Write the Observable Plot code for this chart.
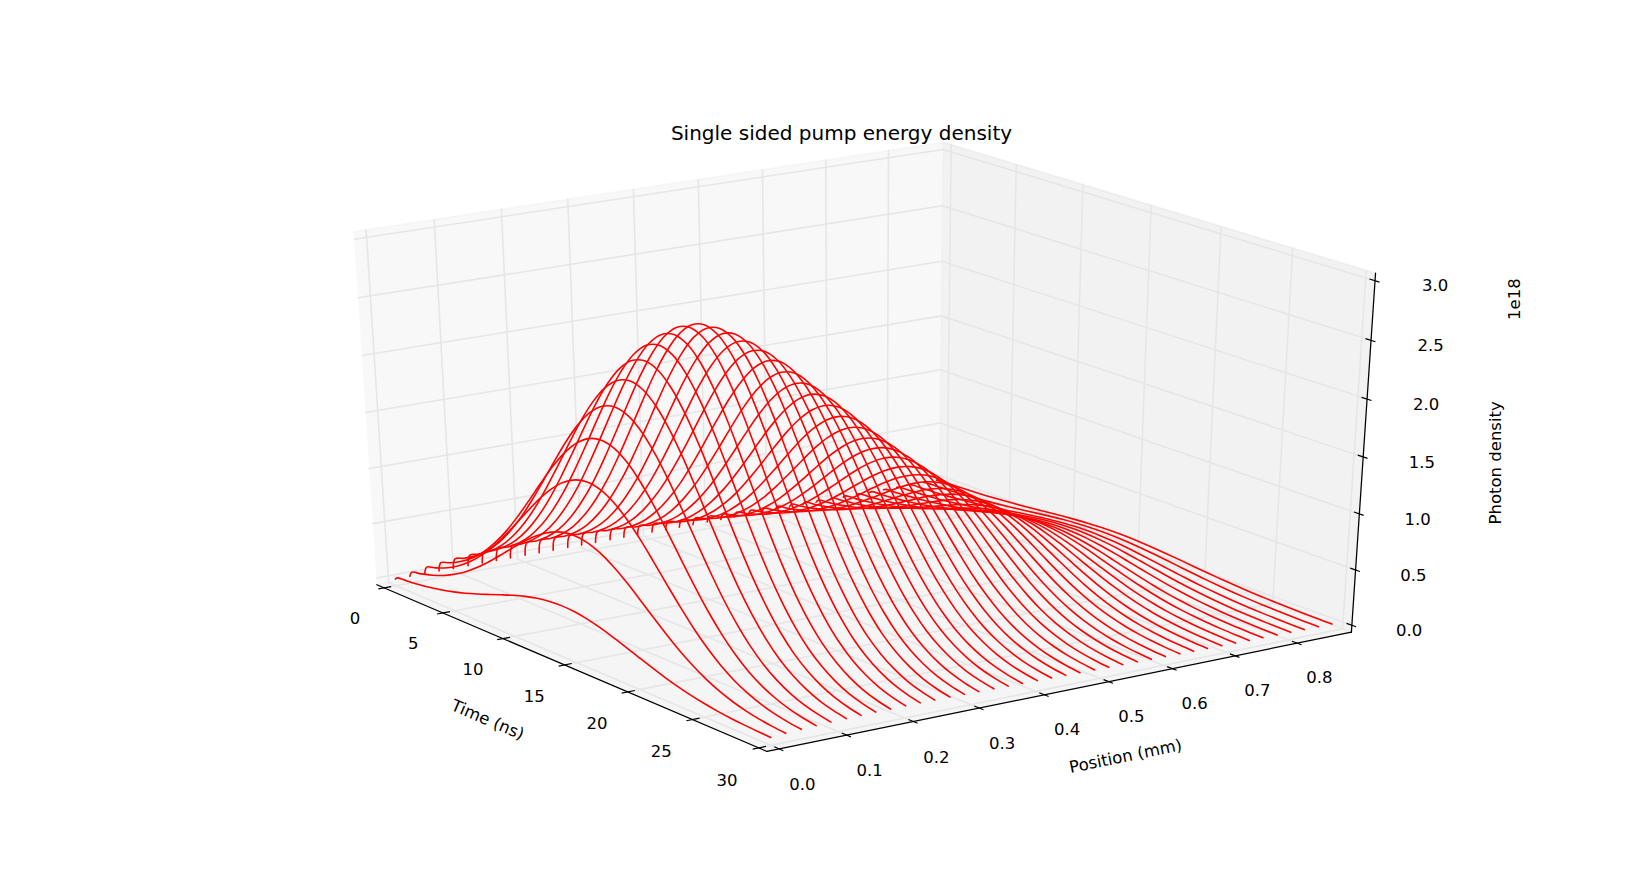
<!DOCTYPE html>
<html>
<head>
<meta charset="utf-8">
<script src="https://cdn.jsdelivr.net/npm/d3@7"></script>
<script src="https://cdn.jsdelivr.net/npm/@observablehq/plot@0.6"></script>
<style>
  html, body { margin: 0; padding: 0; background: #ffffff; }
  svg { display: block; }
</style>
</head>
<body>
<div id="chart"></div>
<script>
// ---------------- data ----------------
const chartTitle = "Single sided pump energy density";
const timeLabel = "Time (ns)";
const positionLabel = "Position (mm)";
const densityLabel = "Photon density";
const densityExponent = "1e18";

// positions (mm) of the traces
const positions = [0.000, 0.022, 0.045, 0.067, 0.089, 0.112, 0.134, 0.156, 0.178, 0.201,
                   0.223, 0.245, 0.268, 0.290, 0.312, 0.335, 0.357, 0.379, 0.402, 0.424,
                   0.446, 0.468, 0.491, 0.513, 0.535, 0.558, 0.580, 0.602, 0.625, 0.647,
                   0.669, 0.692, 0.714, 0.736, 0.758, 0.781, 0.803, 0.825, 0.848, 0.870];
// peak photon density of each trace (units of 1e18)
const amplitude = [0.40, 1.00, 1.44, 1.78, 2.04, 2.24, 2.39, 2.50, 2.57, 2.61,
                   2.61, 2.56, 2.49, 2.40, 2.30, 2.19, 2.07, 1.95, 1.83, 1.71,
                   1.59, 1.47, 1.35, 1.24, 1.13, 1.02, 0.92, 0.83, 0.74, 0.66,
                   0.58, 0.50, 0.43, 0.37, 0.31, 0.26, 0.22, 0.18, 0.15, 0.12];
// sample times (ns) and the relative pulse shape at those times
const times = [0, 0.2, 1, 2, 3, 4, 5, 6, 7, 8, 9, 10, 11, 12, 13, 14, 15,
               16, 17, 18, 19, 20, 21, 22, 23, 24, 25, 26, 27, 28, 29, 30];
const pulseShape = [0, 0.048, 0.068, 0.101, 0.145, 0.203, 0.275, 0.360, 0.458, 0.563,
                    0.671, 0.775, 0.866, 0.938, 0.984, 1.000, 0.984, 0.938, 0.866, 0.775,
                    0.671, 0.563, 0.458, 0.360, 0.275, 0.203, 0.145, 0.101, 0.068, 0.044,
                    0.028, 0.017];

// axes
const timeLimits = [0, 30];
const positionLimits = [0, 0.87];
const densityLimits = [0, 3];
const timeTicks = [0, 5, 10, 15, 20, 25, 30];
const timeTickLabels = ["0", "5", "10", "15", "20", "25", "30"];
const positionTicks = [0, 0.1, 0.2, 0.3, 0.4, 0.5, 0.6, 0.7, 0.8];
const positionTickLabels = ["0.0", "0.1", "0.2", "0.3", "0.4", "0.5", "0.6", "0.7", "0.8"];
const densityTicks = [0, 0.5, 1, 1.5, 2, 2.5, 3];
const densityTickLabels = ["0.0", "0.5", "1.0", "1.5", "2.0", "2.5", "3.0"];

// ---------------- view (matplotlib-like 3-D projection) ----------------
const view = {elev: 27, azim: -35, dist: 10};
const xDomain = [-0.095, 0.09], xRange = [205, 1477];
const yDomain = [-0.095, 0.09], yRange = [798, 89];

const rad = Math.PI / 180;
const el = view.elev * rad, az = view.azim * rad;
const nv = [Math.cos(az) * Math.cos(el), Math.sin(az) * Math.cos(el), Math.sin(el)];
const eye = [0.5 + view.dist * nv[0], 0.5 + view.dist * nv[1], 0.5 + view.dist * nv[2]];
const uv = [-Math.sin(az), Math.cos(az), 0];
const vv = [-Math.sin(el) * Math.cos(az), -Math.sin(el) * Math.sin(az), Math.cos(el)];
function proj(a, b, c) {
  const d = [a - eye[0], b - eye[1], c - eye[2]];
  const w = -(nv[0] * d[0] + nv[1] * d[1] + nv[2] * d[2]);
  return [(uv[0] * d[0] + uv[1] * d[1]) / w,
          (vv[0] * d[0] + vv[1] * d[1] + vv[2] * d[2]) / w];
}
const tn = t => (t - timeLimits[0]) / (timeLimits[1] - timeLimits[0]);
const pn = p => (p - positionLimits[0]) / (positionLimits[1] - positionLimits[0]);
const zn = z => (z - densityLimits[0]) / (densityLimits[1] - densityLimits[0]);
const pad = 1 / 48;          // pane padding (range/48)
const lo = -pad, hi = 1 + pad;
const tickIn = 0.15 / 12, tickOut = 0.12 / 12;

const kx = (xRange[1] - xRange[0]) / (xDomain[1] - xDomain[0]);
const ky = (yRange[0] - yRange[1]) / (yDomain[1] - yDomain[0]);
function screenAngle(a, b) {
  return Math.atan2(-(b[1] - a[1]) * ky, (b[0] - a[0]) * kx) * 180 / Math.PI;
}

// ---------------- build tables ----------------
function poly(id, pts) { return pts.map(q => { const [x, y] = proj(...q); return {id, x, y}; }); }

const paneLeft = poly("x", [[lo, lo, lo], [lo, hi, lo], [lo, hi, hi], [lo, lo, hi]]);
const paneRight = poly("y", [[lo, hi, lo], [hi, hi, lo], [hi, hi, hi], [lo, hi, hi]]);
const paneFloor = poly("z", [[lo, lo, lo], [hi, lo, lo], [hi, hi, lo], [lo, hi, lo]]);

const gridRows = [];
timeTicks.forEach((t, i) => gridRows.push(...poly("t" + i, [[tn(t), lo, lo], [tn(t), hi, lo], [tn(t), hi, hi]])));
positionTicks.forEach((p, i) => gridRows.push(...poly("p" + i, [[hi, pn(p), lo], [lo, pn(p), lo], [lo, pn(p), hi]])));
densityTicks.forEach((z, i) => gridRows.push(...poly("z" + i, [[hi, hi, zn(z)], [lo, hi, zn(z)], [lo, lo, zn(z)]])));

const axisRows = [
  ...poly("tAxis", [[lo, lo, lo], [hi, lo, lo]]),
  ...poly("pAxis", [[hi, lo, lo], [hi, hi, lo]]),
  ...poly("zAxis", [[hi, hi, lo], [hi, hi, hi]])
];

const tickRows = [];
function seg(a, b) { const [x1, y1] = proj(...a), [x2, y2] = proj(...b); tickRows.push({x1, y1, x2, y2}); }
timeTicks.forEach(t => seg([tn(t), lo - tickOut, lo], [tn(t), lo + tickIn, lo]));
positionTicks.forEach(p => seg([hi + tickOut, pn(p), lo], [hi - tickIn, pn(p), lo]));
densityTicks.forEach(z => seg([hi + tickOut, hi, zn(z)], [hi - tickIn, hi, zn(z)]));

const labelRows = [];
function lab(text, q) { const [x, y] = proj(...q); labelRows.push({text, x, y}); }
timeTicks.forEach((t, i) => lab(timeTickLabels[i], [tn(t), lo - 0.054, lo - 0.077]));
positionTicks.forEach((p, i) => lab(positionTickLabels[i], [hi + 0.056, pn(p), lo - 0.078]));
densityTicks.forEach((z, i) => lab(densityTickLabels[i], [hi + 0.06, hi + 0.06, zn(z) - 0.008]));

const timeAngle = screenAngle(proj(0, lo, lo), proj(1, lo, lo));
const posAngle = screenAngle(proj(hi, 0, lo), proj(hi, 1, lo));
const axisTitleRows = [
  {text: timeLabel, q: [0.5, lo - 0.135, lo - 0.12]},
  {text: positionLabel, q: [hi + 0.143, 0.5, lo - 0.127]},
  {text: densityLabel, q: [hi + 0.135, hi + 0.135, 0.5]},
  {text: densityExponent, q: [hi + 0.14, hi + 0.14, 0.965]}
].map(d => { const [x, y] = proj(...d.q); return {...d, x, y}; });

const curveRows = [];
positions.forEach((p, i) => {
  times.forEach((t, j) => {
    const z = amplitude[i] * pulseShape[j];
    const [x, y] = proj(tn(t), pn(p), zn(z));
    curveRows.push({series: i, x, y});
  });
});

// ---------------- plot ----------------
const font = "DejaVu Sans, Verdana, sans-serif";
const chart = Plot.plot({
  width: 1641,
  height: 887,
  margin: 0,
  x: {domain: xDomain, range: xRange, axis: null},
  y: {domain: yDomain, range: yRange, axis: null},
  style: {fontFamily: font, background: "#ffffff", color: "#000000"},
  marks: [
    Plot.line(paneLeft, {x: "x", y: "y", fill: "rgb(242,242,242)", fillOpacity: 0.5, stroke: "rgb(242,242,242)", strokeOpacity: 0.5, strokeWidth: 1.6}),
    Plot.line(paneRight, {x: "x", y: "y", fill: "rgb(230,230,230)", fillOpacity: 0.5, stroke: "rgb(230,230,230)", strokeOpacity: 0.5, strokeWidth: 1.6}),
    Plot.line(paneFloor, {x: "x", y: "y", fill: "rgb(236,236,236)", fillOpacity: 0.5, stroke: "rgb(236,236,236)", strokeOpacity: 0.5, strokeWidth: 1.6}),
    Plot.line(gridRows, {x: "x", y: "y", z: "id", stroke: "#e6e6e6", strokeWidth: 1.6}),
    Plot.line(axisRows, {x: "x", y: "y", z: "id", stroke: "#000000", strokeWidth: 1.25}),
    Plot.link(tickRows, {x1: "x1", y1: "y1", x2: "x2", y2: "y2", stroke: "#000000", strokeWidth: 1.2}),
    Plot.line(curveRows, {x: "x", y: "y", z: "series", stroke: "#ff0000", strokeWidth: 1.6, curve: "catmull-rom"}),
    Plot.text(labelRows, {x: "x", y: "y", text: "text", fontSize: 16.5, fill: "#000000"}),
    Plot.text(axisTitleRows.slice(0, 1), {x: "x", y: "y", text: "text", rotate: timeAngle, fontSize: 16.5, fill: "#000000"}),
    Plot.text(axisTitleRows.slice(1, 2), {x: "x", y: "y", text: "text", rotate: posAngle, fontSize: 16.5, fill: "#000000"}),
    Plot.text(axisTitleRows.slice(2), {x: "x", y: "y", text: "text", rotate: -90, fontSize: 16.5, fill: "#000000"}),
    Plot.text([chartTitle], {frameAnchor: "top", lineAnchor: "middle", dx: 20.5, dy: 133, fontSize: 20, fill: "#000000"})
  ]
});
document.getElementById("chart").appendChild(chart);
</script>
</body>
</html>
